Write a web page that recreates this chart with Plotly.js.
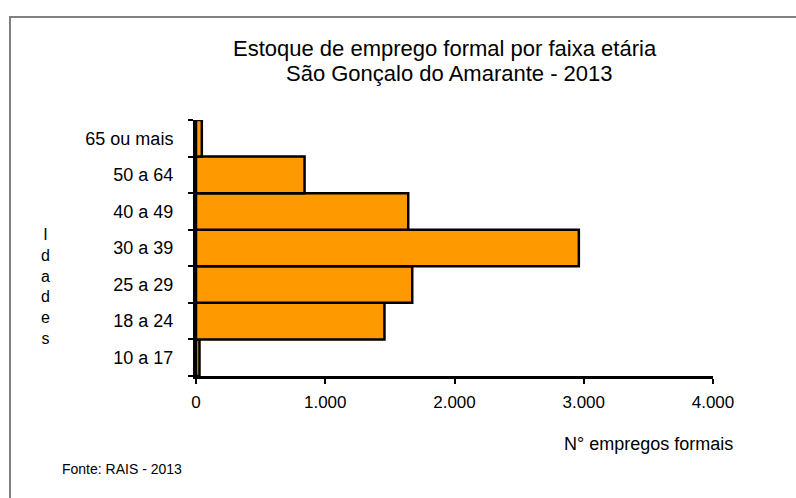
<!DOCTYPE html>
<html>
<head>
<meta charset="utf-8">
<script src="https://cdn.plot.ly/plotly-3.0.1.min.js"></script>
<style>html,body{margin:0;padding:0;background:#fff;}#chart{width:796px;height:498px;}</style>
</head>
<body>
<div id="chart"></div>
<script>
var categories = ["10 a 17", "18 a 24", "25 a 29", "30 a 39", "40 a 49", "50 a 64", "65 ou mais"];
var empregos = [27, 1458, 1673, 2962, 1642, 840, 45];
var xTickVals = [0, 1000, 2000, 3000, 4000];
var xTickText = ["0", "1.000", "2.000", "3.000", "4.000"];
var titleLine1 = "Estoque de emprego formal por faixa etária";
var titleLine2 = "São Gonçalo do Amarante - 2013";

var W = 796, H = 498;
var L = 196, R = 83, T = 120, B = 122;
var pw = W - L - R, ph = H - T - B;
function px2x(p){ return (p - L) / pw; }
function py2y(p){ return (H - B - p) / ph; }

var trace = {
  type: "bar",
  orientation: "h",
  y: categories,
  x: empregos,
  marker: { color: "#FF9900", line: { color: "#000000", width: 2.5 } },
  hoverinfo: "none"
};

var layout = {
  width: W, height: H,
  margin: { l: L, r: R, t: T, b: B },
  paper_bgcolor: "#ffffff",
  plot_bgcolor: "#ffffff",
  font: { family: "Liberation Sans, Arial, sans-serif", color: "#000000", size: 17 },
  bargap: 0,
  showlegend: false,
  xaxis: {
    range: [0, 4000],
    tickvals: xTickVals,
    ticktext: xTickText,
    showgrid: false,
    zeroline: false,
    showline: true, linecolor: "#000000", linewidth: 3,
    ticks: "outside", ticklen: 5, tickwidth: 2, tickcolor: "#000000",
    tickfont: { size: 17 },
    ticklabelstandoff: 4,
    fixedrange: true
  },
  yaxis: {
    type: "category",
    range: [-0.5, 6.5],
    showgrid: false,
    zeroline: false,
    showline: true, linecolor: "#000000", linewidth: 3,
    ticks: "outside", tickson: "boundaries", ticklen: 5, tickwidth: 2, tickcolor: "#000000",
    tickfont: { size: 18 },
    ticklabelstandoff: 16,
    fixedrange: true
  },
  shapes: [
    { type: "rect", xref: "paper", yref: "paper",
      x0: px2x(10), x1: px2x(900), y0: py2y(600), y1: py2y(17),
      line: { color: "#808080", width: 2 }, fillcolor: "rgba(0,0,0,0)", layer: "below" }
  ],
  annotations: [
    { text: titleLine1, xref: "paper", yref: "paper",
      x: px2x(445), y: py2y(48), xanchor: "center", yanchor: "middle",
      showarrow: false, font: { size: 22 } },
    { text: titleLine2, xref: "paper", yref: "paper",
      x: px2x(449), y: py2y(73), xanchor: "center", yanchor: "middle",
      showarrow: false, font: { size: 22 } },
    { text: "I<br>d<br>a<br>d<br>e<br>s", xref: "paper", yref: "paper",
      x: px2x(45), y: py2y(286), xanchor: "center", yanchor: "middle",
      showarrow: false, font: { size: 16 }, align: "center" },
    { text: "N° empregos formais", xref: "paper", yref: "paper",
      x: px2x(735), y: py2y(444), xanchor: "right", yanchor: "middle",
      showarrow: false, font: { size: 18 } },
    { text: "Fonte: RAIS - 2013", xref: "paper", yref: "paper",
      x: px2x(60), y: py2y(469), xanchor: "left", yanchor: "middle",
      showarrow: false, font: { size: 14 } }
  ]
};

Plotly.newPlot("chart", [trace], layout, { displayModeBar: false, staticPlot: true });
</script>
</body>
</html>
